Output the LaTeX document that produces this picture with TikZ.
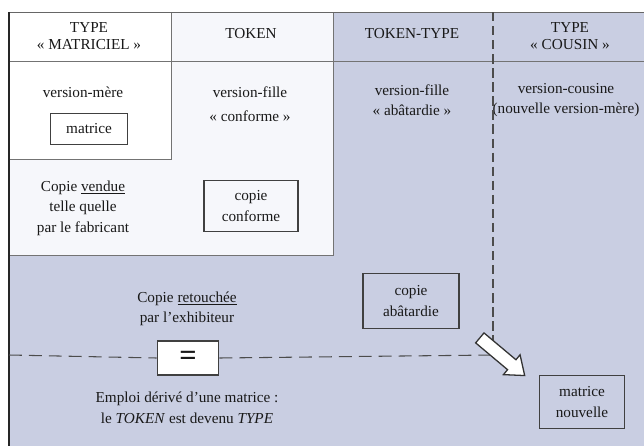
\documentclass[tikz,border=0pt]{standalone}
\usepackage{fontspec}
\setmainfont{Liberation Serif}
\usepackage{tikz}
\usetikzlibrary{shapes.arrows}

\definecolor{fondbleu}{RGB}{201,206,226}
\definecolor{fondclair}{RGB}{246,247,251}

\begin{document}
\begin{tikzpicture}[x=0.03cm, y=-0.03cm,
    titre/.style={align=center, text=black!90, inner sep=0pt, font=\fontsize{13}{14}\selectfont},
    texte/.style={align=center, text=black!90, inner sep=0pt, font=\fontsize{13}{17.5}\selectfont},
    cadre/.style={texte, rectangle, draw=black!75, line width=1.1pt},
    tirets/.style={draw=black!70, line width=0.9pt, dash pattern=on 11pt off 6pt}
   ]
   \useasboundingbox (0,0) rectangle (644,446);

   % fonds
   \fill[white] (0,0) rectangle (644,446);
   \fill[fondbleu] (9,12) rectangle (644,446);
   \filldraw[fill=fondclair, draw=black!55, line width=0.7pt] (9,12) rectangle (333,255);
   \filldraw[fill=white, draw=black!55, line width=0.7pt] (9,12) rectangle (171,159);
   \draw[black!55, line width=0.7pt] (9,61) -- (644,61);
   \draw[black!60, line width=0.7pt] (9,12) -- (644,12);
   \draw[black!85, line width=1.6pt] (9,12) -- (9,446);

   % en-tetes
   \node[titre] (typeMat)    at (89,36)  {TYPE\\«~MATRICIEL~»};
   \node[titre] (token)      at (251,34) {TOKEN};
   \node[titre] (tokenType)  at (412,34) {TOKEN-TYPE};
   \node[titre] (typeCousin) at (570,36) {TYPE\\«~COUSIN~»};

   % versions
   \node[texte] (versionMere)    at (83,92)   {version-mère};
   \node[texte] (versionFille)   at (250,104) {version-fille\\[3pt]«~conforme~»};
   \node[texte] (versionAbat)    at (412,100) {version-fille\\«~abâtardie~»};
   \node[texte] (versionCousine) at (566,100) {version-cousine\\(nouvelle version-mère)};

   % copies
   \node[cadre, fill=white, minimum width=66pt, minimum height=27pt] (matrice) at (89,129) {matrice};
   \node[texte] (copieVendue) at (83,208) {Copie \underline{vendue}\\telle quelle\\par le fabricant};
   \node[cadre, fill=fondclair, minimum width=80pt, minimum height=44pt] (copieConf) at (251,206) {copie\\conforme};
   \node[texte] (copieRetouche) at (187,309) {Copie \underline{retouchée}\\par l'exhibiteur};
   \node[cadre, fill=fondbleu, minimum width=82pt, minimum height=47pt] (copieAbat) at (411,301) {copie\\abâtardie};
   \node[cadre, fill=fondbleu, minimum width=72pt, minimum height=45pt] (matriceNouv) at (582,402) {matrice\\nouvelle};

   % emploi derive
   \node[cadre, fill=white, line width=1.6pt, minimum width=52pt, minimum height=29pt,
         font=\fontsize{26}{26}\selectfont\bfseries] (egal) at (188,358) {=};
   \node[texte] (emploi) at (187,408) {Emploi dérivé d'une matrice :\\le \textit{TOKEN} est devenu \textit{TYPE}};

   \coordinate (bordG) at (9,355);
   \coordinate (hautC) at (493,12);
   \coordinate (jonction) at (493,355);
   \draw[tirets] (bordG) -- (egal.west);
   \draw[tirets] (egal.east) -- (jonction);
   \draw[tirets, dash pattern=on 8pt off 4pt] (hautC) -- (jonction);

   \node[single arrow, draw=black!80, fill=white, line width=1.1pt, inner sep=5pt,
         minimum height=50pt, single arrow head extend=5.5pt, single arrow tip angle=75,
         rotate=-40] (fleche) at (499,354) {};
 \end{tikzpicture}
\end{document}
